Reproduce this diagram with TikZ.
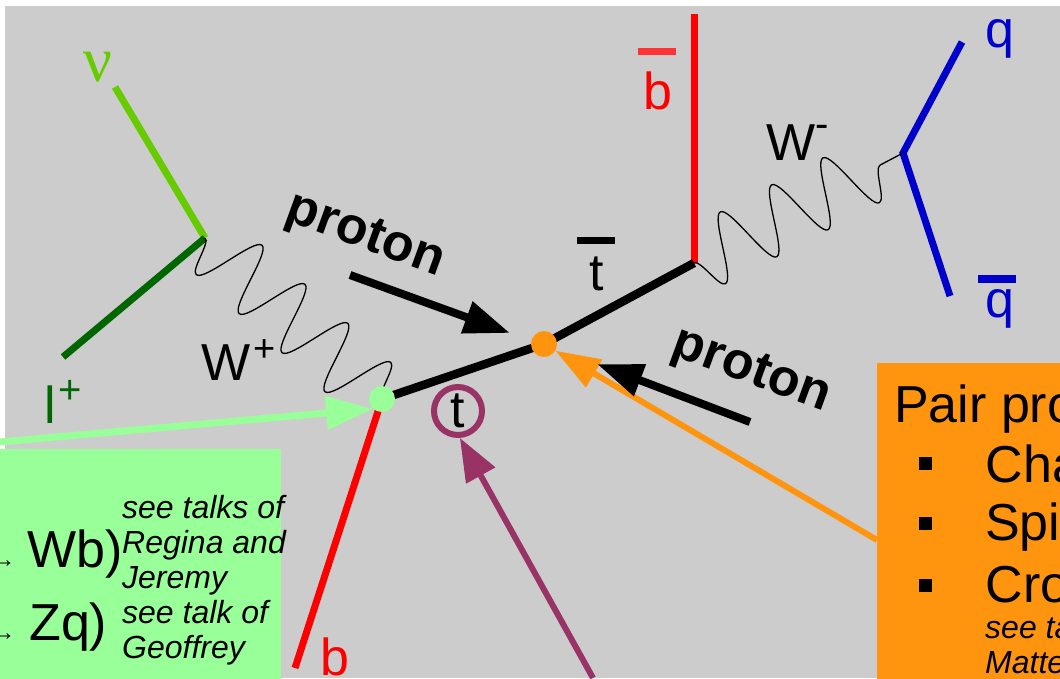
\documentclass[tikz,border=0pt]{standalone}
\usepackage{fontspec}
\setmainfont{Liberation Sans}
\newfontfamily\nufont{Liberation Serif}
\usetikzlibrary{decorations.pathmorphing,arrows.meta}
\definecolor{bggray}{HTML}{CCCCCC}
\definecolor{nugreen}{HTML}{66CC00}
\definecolor{lepgreen}{HTML}{006600}
\definecolor{paleg}{HTML}{99FF99}
\definecolor{qblue}{HTML}{0000CC}
\definecolor{orng}{HTML}{FF950E}
\definecolor{purp}{HTML}{993366}
\definecolor{barred}{HTML}{FF3333}
\begin{document}
\begin{tikzpicture}[x=1pt,y=-1pt,
  lbl/.style={inner sep=0pt, font=\fontsize{52}{60}\selectfont},
  note/.style={inner sep=0pt, align=left, font=\fontsize{32}{35}\selectfont\itshape},
  prot/.style={inner sep=0pt, font=\fontsize{52}{60}\selectfont\bfseries, rotate=-20},
  fermion/.style={line width=7pt},
  topline/.style={line width=8.5pt},
  boson/.style={line width=1.3pt, decorate, decoration={snake, mirror, segment length=58pt, amplitude=33pt}},
  dot/.style={circle, inner sep=0pt, minimum size=26pt},
  parrow/.style={line width=8pt, -{Triangle[length=46pt,width=32pt]}},
  sq/.style={fill=black, inner sep=0pt, minimum size=13pt},
  panel/.style={anchor=north west, inner sep=0pt},
]
\useasboundingbox (0,0) rectangle (1060,678);
\clip (0,0) rectangle (1060,678);
\fill[white] (0,0) rectangle (1060,678);
\fill[bggray] (5,6) rectangle (1060,678);
% panels
\node[panel, fill=paleg, minimum width=281pt, minimum height=230pt] (gbox) at (0,449) {};
\node[panel, fill=orng, minimum width=190pt, minimum height=320pt] (obox) at (877,363) {};
% vertices and line ends
\coordinate (vlep) at (205,238);
\coordinate (vtb) at (382,399);
\coordinate (vprod) at (544,344);
\coordinate (vtbar) at (694,263);
\coordinate (vhad) at (903,153);
\coordinate (nuend) at (115,87);
\coordinate (lend) at (63,357);
\coordinate (bend) at (295,668);
\coordinate (bbend) at (694,14);
\coordinate (qend) at (962,42);
\coordinate (qbend) at (950,296);
% particle lines
\draw[fermion, nugreen] (vlep) -- (nuend);
\draw[fermion, lepgreen] (vlep) -- (lend);
\draw[fermion, red] (vtb) -- (bend);
\draw[fermion, red] (vtbar) -- (bbend);
\draw[fermion, qblue, line join=miter] (qend) -- (vhad) -- (qbend);
\draw[topline] (vtb) -- (vprod) -- (vtbar);
\draw[boson] (vlep) -- (vtb);
\draw[boson] (vtbar) -- (vhad);
% dots
\node[dot, fill=paleg] (gdot) at (vtb) {};
\node[dot, fill=orng] (odot) at (vprod) {};
\node[lbl, circle, draw=purp, line width=6pt, minimum size=48pt] (tcirc) at (458,411) {t};
% pointer arrows
\coordinate (gstart) at (0,442);
\draw[line width=7pt, paleg, -{Triangle[length=47pt,width=32pt]}] (gstart) -- (gdot.228);
\coordinate (ostart) at (877,540);
\draw[line width=6pt, orng, -{Triangle[length=45pt,width=31pt]}] (ostart) -- (odot);
\coordinate (pstart) at (593,678);
\draw[line width=6pt, purp, -{Triangle[length=43pt,width=32pt]}] (pstart) -- (tcirc.-86);
% proton arrows
\coordinate (p1s) at (350,275);
\coordinate (p1e) at (510,333);
\draw[parrow] (p1s) -- (p1e);
\coordinate (p2s) at (750,422);
\coordinate (p2e) at (597,364);
\draw[parrow] (p2s) -- (p2e);
% labels
\node[lbl, nugreen, font=\nufont\fontsize{64}{64}\selectfont] (nu) at (98,67) {ν};
\node[lbl, lepgreen, anchor=base west] (lplus) at (44.5,423) {l\kern2pt\raisebox{20pt}{\fontsize{40}{40}\selectfont +}};
\node[lbl, anchor=base west] (Wp) at (201.5,380) {W\kern3pt\raisebox{19pt}{\fontsize{38}{38}\selectfont +}};
\node[lbl, anchor=base west] (Wm) at (766.5,160) {W\raisebox{23pt}{\fontsize{40}{40}\selectfont -}};
\node[lbl, anchor=base] (tbarlbl) at (597,290) {t};
\fill (577,237) rectangle (615,244);
\node[lbl, red, anchor=base west] (bbarlbl) at (643.6,109) {b};
\fill[barred] (638,48) rectangle (676,55);
\node[lbl, red, anchor=base west] (blbl) at (320.6,675) {b};
\node[lbl, qblue, anchor=base west] (qlbl) at (985,47) {q};
\node[lbl, qblue, anchor=base west] (qbarlbl) at (985,317) {q};
\fill[qblue] (978,275) rectangle (1016,283);
\node[prot] (prot1) at (365,237) {proton};
\node[prot] (prot2) at (751,372) {proton};
% green panel text
\node[lbl, anchor=base east] (wb) at (123,567) {{\fontsize{24}{24}\selectfont →}\hspace{12pt}Wb)};
\node[lbl, anchor=base east] (zq) at (107.5,640) {{\fontsize{24}{24}\selectfont →}\hspace{14pt}Zq)};
\node[note, anchor=north west] (n1) at (122,495) {see talks of\\Regina and\\Jeremy};
\node[note, anchor=north west] (n2) at (122,600) {see talk of\\Geoffrey};
% orange panel text
\node[lbl, anchor=base west] (pair) at (894,422) {Pair pro};
\node[sq] (s1) at (925,463.5) {};
\node[sq] (s2) at (925,523.5) {};
\node[sq] (s3) at (925,585) {};
\node[lbl, anchor=base west] (c1) at (985.4,482) {Cha};
\node[lbl, anchor=base west] (c2) at (985,540) {Spi};
\node[lbl, anchor=base west] (c3) at (985.4,602) {Cro};
\node[note, anchor=base west] (c4) at (985,638) {see ta};
\node[note, anchor=base west] (c5) at (985,673) {Matte};
\end{tikzpicture}
\end{document}
